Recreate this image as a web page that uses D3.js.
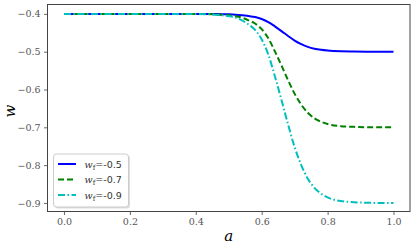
<!DOCTYPE html>
<html>
<head>
<meta charset="utf-8">
<script src="https://cdn.jsdelivr.net/npm/d3@7"></script>
<style>
  body { margin: 0; background: #fff; }
  text { font-family: "DejaVu Serif", "Liberation Serif", serif; }
</style>
</head>
<body>
<div id="chart"></div>
<script>
// scale factor a
var aValues = [0, 0.1, 0.2, 0.3, 0.4, 0.45, 0.5, 0.52, 0.54, 0.56, 0.58, 0.6, 0.62, 0.64, 0.66,
  0.68, 0.7, 0.72, 0.74, 0.76, 0.78, 0.8, 0.84, 0.88, 0.92, 0.96, 1.0];

// w(a), one per w_f
var wMinus05 = [-0.4, -0.4, -0.4, -0.4, -0.4, -0.4003, -0.4012, -0.402, -0.4034, -0.4056, -0.4085,
  -0.4135, -0.4215, -0.433, -0.4455, -0.4585, -0.4705, -0.48, -0.4872, -0.492, -0.4951, -0.4971,
  -0.499, -0.4996, -0.4999, -0.5, -0.5];
var wMinus07 = [-0.4, -0.4, -0.4, -0.4, -0.4, -0.401, -0.4037, -0.406, -0.41, -0.417, -0.4255,
  -0.4405, -0.4645, -0.499, -0.5365, -0.5755, -0.6115, -0.64, -0.6616, -0.676, -0.6853, -0.6913,
  -0.697, -0.6988, -0.6997, -0.7, -0.7];
var wMinus09 = [-0.4, -0.4, -0.4, -0.4, -0.4, -0.4017, -0.4061, -0.41, -0.417, -0.428, -0.4425,
  -0.4675, -0.5075, -0.565, -0.6275, -0.6925, -0.7525, -0.8, -0.836, -0.86, -0.8755, -0.8855,
  -0.895, -0.898, -0.8995, -0.9, -0.9];

var seriesLabels = ['-0.5', '-0.7', '-0.9'];
var xTicks = [0, 0.2, 0.4, 0.6, 0.8, 1.0];
var yTicks = [-0.4, -0.5, -0.6, -0.7, -0.8, -0.9];

var chart = (function() {

  var config = {
    width: 415,
    height: 248,
    left: 47.5,
    right: 410,
    top: 4.5,
    bottom: 211.5
  };

  var styles = [
    { color: '#0000ff', dash: null },
    { color: '#008000', dash: '6,3' },
    { color: '#00bfbf', dash: '7,2.5,1.5,2.5' }
  ];

  var svg, x, y;

  function init() {
    svg = d3.select('#chart').append('svg')
      .attr('width', config.width)
      .attr('height', config.height);

    x = d3.scaleLinear().domain([-0.05, 1.05]).range([config.left, config.right]);
    y = d3.scaleLinear().domain([-0.9226, -0.3752]).range([config.bottom, config.top]);

    drawLines();
    drawAxes();
    drawLegend();
  }

  function drawLines() {
    var series = [wMinus05, wMinus07, wMinus09];
    var line = d3.line()
      .x(function(d) { return x(d[0]); })
      .y(function(d) { return y(d[1]); })
      .curve(d3.curveMonotoneX);

    series.forEach(function(vals, i) {
      var pts = aValues.map(function(a, j) { return [a, vals[j]]; });
      svg.append('path')
        .attr('d', line(pts))
        .attr('fill', 'none')
        .attr('stroke', styles[i].color)
        .attr('stroke-width', 2)
        .attr('stroke-dasharray', styles[i].dash);
    });
  }

  function drawAxes() {
    var fmt = function(d) { return d3.format('.1f')(d).replace('-', '\u2212'); };

    var gx = svg.append('g')
      .attr('transform', 'translate(0,' + config.bottom + ')')
      .call(d3.axisBottom(x).tickValues(xTicks).tickSize(3.5).tickPadding(3.5).tickFormat(fmt));
    var gy = svg.append('g')
      .attr('transform', 'translate(' + config.left + ',0)')
      .call(d3.axisLeft(y).tickValues(yTicks).tickSize(3.5).tickPadding(3.5).tickFormat(fmt));

    [gx, gy].forEach(function(g) {
      g.select('.domain').remove();
      g.selectAll('line').attr('stroke', '#444').attr('stroke-width', 0.8);
      g.selectAll('text').attr('fill', '#555').style('font-size', '9.5px')
        .style('font-family', '"DejaVu Serif", serif');
    });

    // frame
    svg.append('rect')
      .attr('x', config.left).attr('y', config.top)
      .attr('width', config.right - config.left)
      .attr('height', config.bottom - config.top)
      .attr('fill', 'none')
      .attr('stroke', '#444')
      .attr('stroke-width', 1);

    svg.append('text')
      .attr('x', (config.left + config.right) / 2)
      .attr('y', 241)
      .attr('text-anchor', 'middle')
      .style('font-style', 'italic')
      .style('font-size', '15px')
      .text('a');

    svg.append('text')
      .attr('transform', 'translate(14.5,111) rotate(-90)')
      .attr('text-anchor', 'middle')
      .style('font-style', 'italic')
      .style('font-size', '15px')
      .text('w');
  }

  function drawLegend() {
    var g = svg.append('g').attr('transform', 'translate(53.5,154)');

    g.append('rect')
      .attr('x', 1.5).attr('y', 1.5)
      .attr('width', 75).attr('height', 53)
      .attr('rx', 3)
      .attr('fill', '#ddd');
    g.append('rect')
      .attr('width', 75).attr('height', 53)
      .attr('rx', 3)
      .attr('fill', '#fff')
      .attr('stroke', '#ccc')
      .attr('stroke-width', 1);

    var rowY = [10, 25.5, 41];
    seriesLabels.forEach(function(lbl, i) {
      g.append('line')
        .attr('x1', 4.5).attr('x2', 22.5)
        .attr('y1', rowY[i]).attr('y2', rowY[i])
        .attr('stroke', styles[i].color)
        .attr('stroke-width', 2)
        .attr('stroke-dasharray', styles[i].dash);

      var t = g.append('text')
        .attr('x', 31)
        .attr('y', rowY[i] + 3.5)
        .style('font-size', '9.5px')
        .attr('fill', '#333');
      t.append('tspan').style('font-style', 'italic').text('w');
      t.append('tspan').attr('dy', 2).style('font-size', '7px').text('f');
      t.append('tspan').attr('dy', -2).text('=');
      t.append('tspan').style('font-family', '"DejaVu Sans", sans-serif').text(lbl);
    });
  }

  return { init: init };

})();

chart.init();
</script>
</body>
</html>
